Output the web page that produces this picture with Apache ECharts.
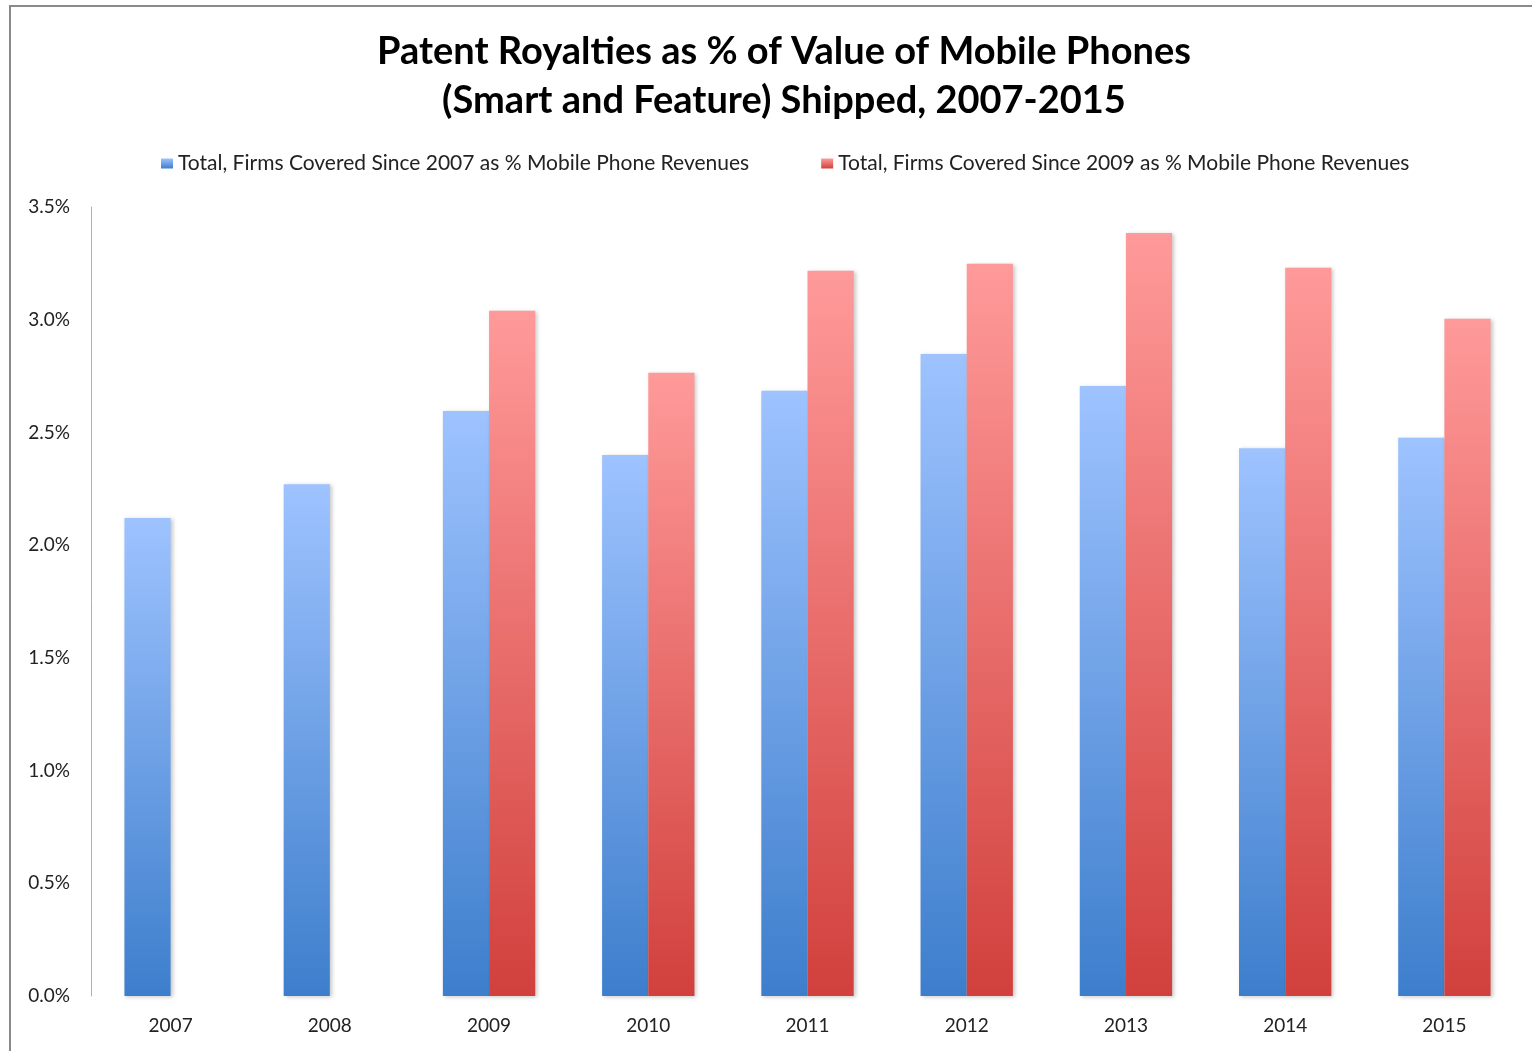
<!DOCTYPE html>
<html>
<head>
<meta charset="utf-8">
<script src="https://cdn.jsdelivr.net/npm/echarts@6/dist/echarts.min.js"></script>
<style>
  html, body { margin: 0; padding: 0; background: #fff; }
  #chart { width: 1532px; height: 1051px; }
</style>
</head>
<body>
<div id="chart"></div>
<script>
// Patent royalties as a share of mobile phone revenues
const years = ['2007', '2008', '2009', '2010', '2011', '2012', '2013', '2014', '2015'];
const since2007 = [2.12, 2.27, 2.595, 2.40, 2.685, 2.848, 2.706, 2.43, 2.476];
const since2009 = [null, null, 3.04, 2.765, 3.217, 3.248, 3.385, 3.23, 3.004];
const seriesNames = [
  'Total, Firms Covered Since 2007 as % Mobile Phone Revenues',
  'Total, Firms Covered Since 2009 as % Mobile Phone Revenues'
];
const titleLines = ['Patent Royalties as % of Value of Mobile Phones', '(Smart and Feature) Shipped, 2007-2015'];

const FONT = 'Lato, "Open Sans", sans-serif';

function grad(top, bottom) {
  return new echarts.graphic.LinearGradient(0, 0, 0, 1, [
    { offset: 0, color: top },
    { offset: 1, color: bottom }
  ]);
}

const chart = echarts.init(document.getElementById('chart'), null, { renderer: 'canvas' });

const barShadow = {
  shadowBlur: 4,
  shadowOffsetX: 2,
  shadowOffsetY: 1,
  shadowColor: 'rgba(0,0,0,0.22)'
};

chart.setOption({
  animation: false,
  backgroundColor: '#fff',
  graphic: [{
    type: 'rect',
    silent: true,
    z: -10,
    shape: { x: 10, y: 6, width: 1600, height: 1100 },
    style: { fill: 'none', stroke: '#8a8a8a', lineWidth: 2 }
  }],
  title: {
    text: titleLines.join('\n'),
    left: 779,
    top: 22,
    textAlign: 'center',
    textStyle: {
      fontFamily: FONT,
      fontWeight: 'bold',
      fontSize: 38,
      lineHeight: 49,
      color: '#000'
    }
  },
  legend: {
    top: 148,
    left: 156,
    itemWidth: 12,
    itemHeight: 10,
    itemGap: 72,
    icon: 'rect',
    textStyle: { fontFamily: FONT, fontSize: 21, color: '#222', padding: [0, 0, 0, 0] },
    data: seriesNames
  },
  grid: {
    left: 91,
    right: 8,
    top: 207,
    bottom: 55,
    containLabel: false
  },
  xAxis: {
    type: 'category',
    data: years,
    axisLine: { show: false },
    axisTick: { show: false },
    axisLabel: {
      fontFamily: FONT,
      fontSize: 19,
      color: '#222',
      margin: 20
    }
  },
  yAxis: {
    type: 'value',
    min: 0,
    max: 3.5,
    interval: 0.5,
    splitLine: { show: false },
    axisLine: { show: true, lineStyle: { color: '#b0b0b0', width: 1 } },
    axisTick: { show: false },
    axisLabel: {
      fontFamily: FONT,
      fontSize: 19,
      color: '#222',
      margin: 21,
      formatter: v => v.toFixed(1) + '%'
    }
  },
  series: [
    {
      name: seriesNames[0],
      type: 'bar',
      data: since2007,
      barGap: '0%',
      barCategoryGap: '42%',
      itemStyle: Object.assign({ color: grad('#9ec3ff', '#3d7ecc') }, barShadow)
    },
    {
      name: seriesNames[1],
      type: 'bar',
      data: since2009,
      itemStyle: Object.assign({ color: grad('#ff9a9a', '#d1403c') }, barShadow)
    }
  ]
});
</script>
</body>
</html>
